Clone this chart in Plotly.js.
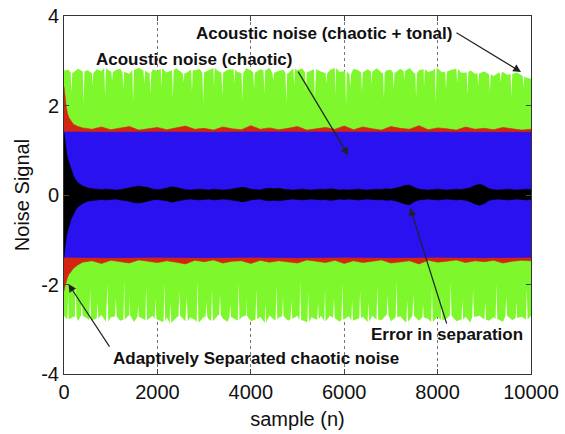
<!DOCTYPE html>
<html>
<head>
<meta charset="utf-8">
<script src="https://cdn.plot.ly/plotly-3.0.1.min.js"></script>
<style>html,body{margin:0;padding:0;background:#fff;}#chart{width:565px;height:434px;}</style>
</head>
<body>
<div id="chart"></div>
<script>
// ---- sample positions (sampling grid of the envelopes) ----
function grid(prefix, start, stop, step){var a=prefix.slice();for(var v=start;v<=stop;v+=step)a.push(v);return a;}

// ---- Acoustic noise (chaotic + tonal): envelope every 100 samples ----
var greenX = grid([], 0, 10000, 100);
var greenHi = [2.78,2.80,2.74,2.82,2.76,2.79,2.72,2.81,2.77,2.83,
2.75,2.79,2.82,2.75,2.71,2.80,2.84,2.78,2.73,2.81,
2.77,2.82,2.74,2.79,2.83,2.76,2.72,2.80,2.78,2.82,
2.74,2.79,2.84,2.77,2.73,2.80,2.81,2.76,2.72,2.83,
2.79,2.74,2.81,2.78,2.84,2.73,2.77,2.80,2.72,2.82,
2.79,2.83,2.74,2.78,2.81,2.76,2.72,2.80,2.84,2.75,
2.77,2.71,2.82,2.79,2.74,2.81,2.76,2.83,2.73,2.78,
2.80,2.74,2.82,2.77,2.84,2.72,2.79,2.81,2.75,2.78,
2.83,2.74,2.76,2.80,2.82,2.73,2.74,2.79,2.71,2.72,
2.76,2.70,2.66,2.73,2.75,2.68,2.71,2.74,2.66,2.62,2.60];
var greenLo = [-2.70,-2.78,-2.72,-2.82,-2.70,-2.76,-2.80,-2.76,-2.68,-2.83,
-2.74,-2.71,-2.81,-2.79,-2.69,-2.84,-2.72,-2.77,-2.80,-2.70,
-2.77,-2.83,-2.73,-2.86,-2.75,-2.71,-2.82,-2.74,-2.79,-2.84,
-2.72,-2.78,-2.81,-2.68,-2.76,-2.83,-2.74,-2.80,-2.73,-2.70,
-2.82,-2.78,-2.72,-2.85,-2.69,-2.79,-2.74,-2.71,-2.81,-2.77,
-2.70,-2.80,-2.84,-2.73,-2.78,-2.69,-2.82,-2.70,-2.75,-2.83,
-2.79,-2.71,-2.81,-2.76,-2.72,-2.84,-2.70,-2.78,-2.80,-2.68,
-2.82,-2.74,-2.71,-2.83,-2.79,-2.70,-2.81,-2.73,-2.77,-2.84,
-2.72,-2.80,-2.76,-2.69,-2.82,-2.78,-2.72,-2.85,-2.72,-2.70,
-2.79,-2.81,-2.73,-2.77,-2.83,-2.70,-2.80,-2.75,-2.72,-2.78,-2.70];
// thin dips of the green signal away from its envelope
var greenTopSpikeX = [160,420,610,880,1030,1270,1480,1720,1850,2090,2330,2560,2740,2980,3210,3390,3650,3820,4070,4290,4480,4760,4930,5180,5370,5620,5810,6040,6130,6380,6590,6850,7060,7290,7540,7710,7960,8180,8420,8640,8870,9120,9350,9580,9840];
var greenTopSpikeY = [2.30,2.05,2.45,2.20,2.55,2.35,2.10,2.48,2.25,2.40,2.15,2.52,2.30,2.05,2.42,2.22,2.50,2.12,2.38,2.28,2.55,2.08,2.45,2.32,2.18,2.50,2.25,2.00,2.40,2.30,2.48,2.15,2.35,2.55,2.20,2.42,2.10,2.38,2.50,2.25,2.45,2.30,2.52,2.20,2.40];
var greenBotSpikeX = [90,250,380,560,720,930,1110,1290,1400,1590,1760,1960,2150,2280,2470,2630,2860,3050,3170,3340,3560,3740,3900,4120,4310,4550,4690,4870,5060,5230,5440,5590,5780,5960,6170,6340,6520,6710,6930,7120,7350,7480,7690,7880,8090,8280,8530,8760,9020,9260,9470,9690,9910];
var greenBotSpikeY = [-2.20,-1.95,-2.35,-2.10,-2.40,-2.00,-2.30,-1.92,-2.25,-2.45,-2.05,-2.32,-1.98,-2.40,-2.15,-2.28,-1.90,-2.38,-2.10,-2.22,-2.44,-1.96,-2.30,-2.12,-2.40,-2.02,-2.26,-2.36,-1.94,-2.18,-2.42,-2.08,-2.30,-1.98,-2.34,-2.14,-2.40,-2.04,-2.24,-1.92,-2.36,-2.20,-2.44,-2.06,-2.28,-1.96,-2.34,-2.12,-2.40,-2.00,-2.26,-2.38,-2.10];

// ---- Adaptively separated chaotic noise ----
var redX = grid([0,25,50,75,100,150,200,300], 400, 10000, 200);
var redHi = [2.42,2.15,1.95,1.82,1.74,1.66,1.58,1.53,
1.50,1.47,1.52,1.46,1.49,1.53,1.45,1.48,1.51,1.46,
1.50,1.54,1.47,1.49,1.45,1.52,1.48,1.46,1.55,1.47,
1.50,1.46,1.49,1.53,1.45,1.48,1.51,1.47,1.54,1.46,
1.52,1.48,1.45,1.53,1.49,1.47,1.55,1.46,1.50,1.48,
1.45,1.52,1.47,1.49,1.46,1.51,1.48,1.45,1.47];
var redLo = [-2.15,-2.02,-1.92,-1.84,-1.78,-1.70,-1.64,-1.56,
-1.50,-1.47,-1.53,-1.46,-1.49,-1.52,-1.45,-1.48,-1.51,-1.47,
-1.50,-1.54,-1.46,-1.49,-1.45,-1.52,-1.48,-1.47,-1.53,-1.46,
-1.50,-1.47,-1.49,-1.52,-1.45,-1.48,-1.51,-1.46,-1.53,-1.47,
-1.51,-1.48,-1.45,-1.52,-1.49,-1.47,-1.54,-1.46,-1.50,-1.48,
-1.45,-1.51,-1.47,-1.49,-1.46,-1.52,-1.48,-1.46,-1.47];

// ---- Acoustic noise (chaotic) ----
var blueX = grid([], 0, 10000, 1000);
var blueHi = [1.41,1.40,1.41,1.40,1.41,1.41,1.40,1.41,1.40,1.41,1.40];
var blueLo = [-1.39,-1.40,-1.39,-1.40,-1.39,-1.40,-1.39,-1.40,-1.39,-1.40,-1.39];

// ---- Error in separation ----
var blackX = grid([0,20,40,60,80,100,150,200,250,300,400], 500, 10000, 100);
var blackHi = [1.40,1.18,1.02,0.90,0.81,0.74,0.56,0.43,0.34,0.27,0.20,
0.16,0.14,0.13,0.12,0.13,0.12,0.11,0.12,0.14,0.16,
0.19,0.20,0.18,0.17,0.13,0.12,0.13,0.15,0.18,0.17,
0.14,0.12,0.11,0.12,0.13,0.12,0.11,0.13,0.12,0.11,
0.12,0.13,0.15,0.17,0.16,0.13,0.12,0.11,0.14,0.15,
0.14,0.15,0.13,0.12,0.11,0.12,0.13,0.12,0.11,0.12,
0.13,0.12,0.14,0.13,0.11,0.12,0.11,0.12,0.13,0.12,
0.11,0.12,0.13,0.12,0.14,0.13,0.15,0.18,0.21,0.22,
0.17,0.13,0.12,0.11,0.12,0.13,0.12,0.11,0.12,0.13,
0.12,0.14,0.16,0.21,0.24,0.20,0.14,0.12,0.11,0.12,
0.13,0.12,0.11,0.12,0.13,0.12];
var blackLo = [-1.40,-1.17,-1.00,-0.88,-0.79,-0.72,-0.54,-0.42,-0.33,-0.26,-0.19,
-0.14,-0.12,-0.11,-0.10,-0.11,-0.10,-0.09,-0.10,-0.12,-0.14,
-0.17,-0.18,-0.16,-0.14,-0.11,-0.10,-0.11,-0.13,-0.16,-0.15,
-0.12,-0.10,-0.09,-0.10,-0.11,-0.10,-0.09,-0.11,-0.10,-0.09,
-0.10,-0.11,-0.13,-0.15,-0.14,-0.11,-0.10,-0.09,-0.12,-0.13,
-0.12,-0.13,-0.11,-0.10,-0.09,-0.10,-0.11,-0.10,-0.09,-0.10,
-0.11,-0.10,-0.12,-0.11,-0.09,-0.10,-0.09,-0.10,-0.11,-0.10,
-0.09,-0.10,-0.11,-0.10,-0.12,-0.11,-0.13,-0.16,-0.20,-0.22,
-0.15,-0.11,-0.10,-0.09,-0.10,-0.11,-0.10,-0.09,-0.10,-0.11,
-0.10,-0.12,-0.15,-0.20,-0.23,-0.19,-0.12,-0.10,-0.09,-0.10,
-0.11,-0.10,-0.09,-0.10,-0.11,-0.10];

// ---- axes ticks ----
var xTickVals = [0,2000,4000,6000,8000,10000];
var xTickText = ['0','2000','4000','6000','8000','10000'];
var yTickVals = [-4,-2,0,2,4];
var yTickText = ['-4','-2','0','2','4'];

// merge thin spikes into an envelope edge (each spike keeps the nearest envelope value at its shoulders)
function withSpikes(bx, by, sx, sy, w){
  var pts = bx.map(function(x,i){return [x, by[i]];});
  sx.forEach(function(x,k){
    var j=0, best=Infinity;
    for(var i=0;i<bx.length;i++){var d=Math.abs(bx[i]-x); if(d<best){best=d;j=i;}}
    pts.push([x-w, by[j]], [x, sy[k]], [x+w, by[j]]);
  });
  pts.sort(function(a,b){return a[0]-b[0];});
  return {x:pts.map(function(p){return p[0];}), y:pts.map(function(p){return p[1];})};
}

function band(topX, hi, botX, lo, color, name, lw){
  var x = topX.concat(botX.slice().reverse());
  var y = hi.concat(lo.slice().reverse());
  return {x:x, y:y, type:'scatter', mode:'lines', fill:'toself', fillcolor:color,
          line:{color:color, width:lw}, name:name, hoverinfo:'skip', showlegend:false};
}

var gTop = withSpikes(greenX, greenHi, greenTopSpikeX, greenTopSpikeY, 18);
var gBot = withSpikes(greenX, greenLo, greenBotSpikeX, greenBotSpikeY, 18);

var traces = [
  band(gTop.x, gTop.y, gBot.x, gBot.y, '#7ef82c', 'Acoustic noise (chaotic + tonal)', 0),
  band(redX, redHi, redX, redLo, '#d42512', 'Adaptively Separated chaotic noise', 0.6),
  band(blueX, blueHi, blueX, blueLo, '#2a12f0', 'Acoustic noise (chaotic)', 0.6),
  band(blackX, blackHi, blackX, blackLo, '#000000', 'Error in separation', 0.6)
];

var txtFont = {family:'Liberation Sans, Arial, sans-serif', size:17, color:'#111', weight:'bold'};
var arrow = {text:'', showarrow:true, arrowhead:2, arrowsize:1.3, arrowwidth:1.2, arrowcolor:'#222', xref:'x', yref:'y', axref:'pixel', ayref:'pixel'};
function arr(x,y,ax,ay){var o=Object.assign({},arrow);o.x=x;o.y=y;o.ax=ax;o.ay=ay;return o;}
function lab(t,x,y){return {text:t, x:x, y:y, xref:'x', yref:'y', showarrow:false, font:txtFont, xanchor:'center', yanchor:'middle'};}

var layout = {
  width:565, height:434,
  margin:{l:64, r:34, t:16, b:60},
  paper_bgcolor:'#fff', plot_bgcolor:'#fff',
  font:{family:'Liberation Sans, Arial, sans-serif', color:'#111'},
  xaxis:{range:[0,10000], tickvals:xTickVals, ticktext:xTickText, ticks:'inside', ticklen:5,
         showline:true, mirror:'ticks', linecolor:'#333', linewidth:1, zeroline:false,
         showgrid:true, gridcolor:'#777', griddash:'dot', gridwidth:1,
         tickfont:{size:20}, title:{text:'sample (n)', font:{size:20}, standoff:9}},
  yaxis:{range:[-4,4], tickvals:yTickVals, ticktext:yTickText, ticks:'inside', ticklen:5,
         showline:true, mirror:'ticks', linecolor:'#333', linewidth:1, zeroline:false,
         showgrid:false, tickfont:{size:20}, title:{text:'Noise Signal', font:{size:20}, standoff:6}},
  annotations:[
    lab('Acoustic noise (chaotic + tonal)', 5572, 3.62),
    lab('Acoustic noise (chaotic)', 2791, 3.03),
    lab('Error in separation', 8203, -3.11),
    lab('Adaptively Separated chaotic noise', 4118, -3.66),
    arr(9786, 2.75, -66, -40),
    arr(6086, 0.89, -51, -85),
    arr(7412, -0.29, 37, 117),
    arr(96, -1.99, 42, 64)
  ]
};

Plotly.newPlot('chart', traces, layout, {staticPlot:true, displayModeBar:false});
</script>
</body>
</html>
